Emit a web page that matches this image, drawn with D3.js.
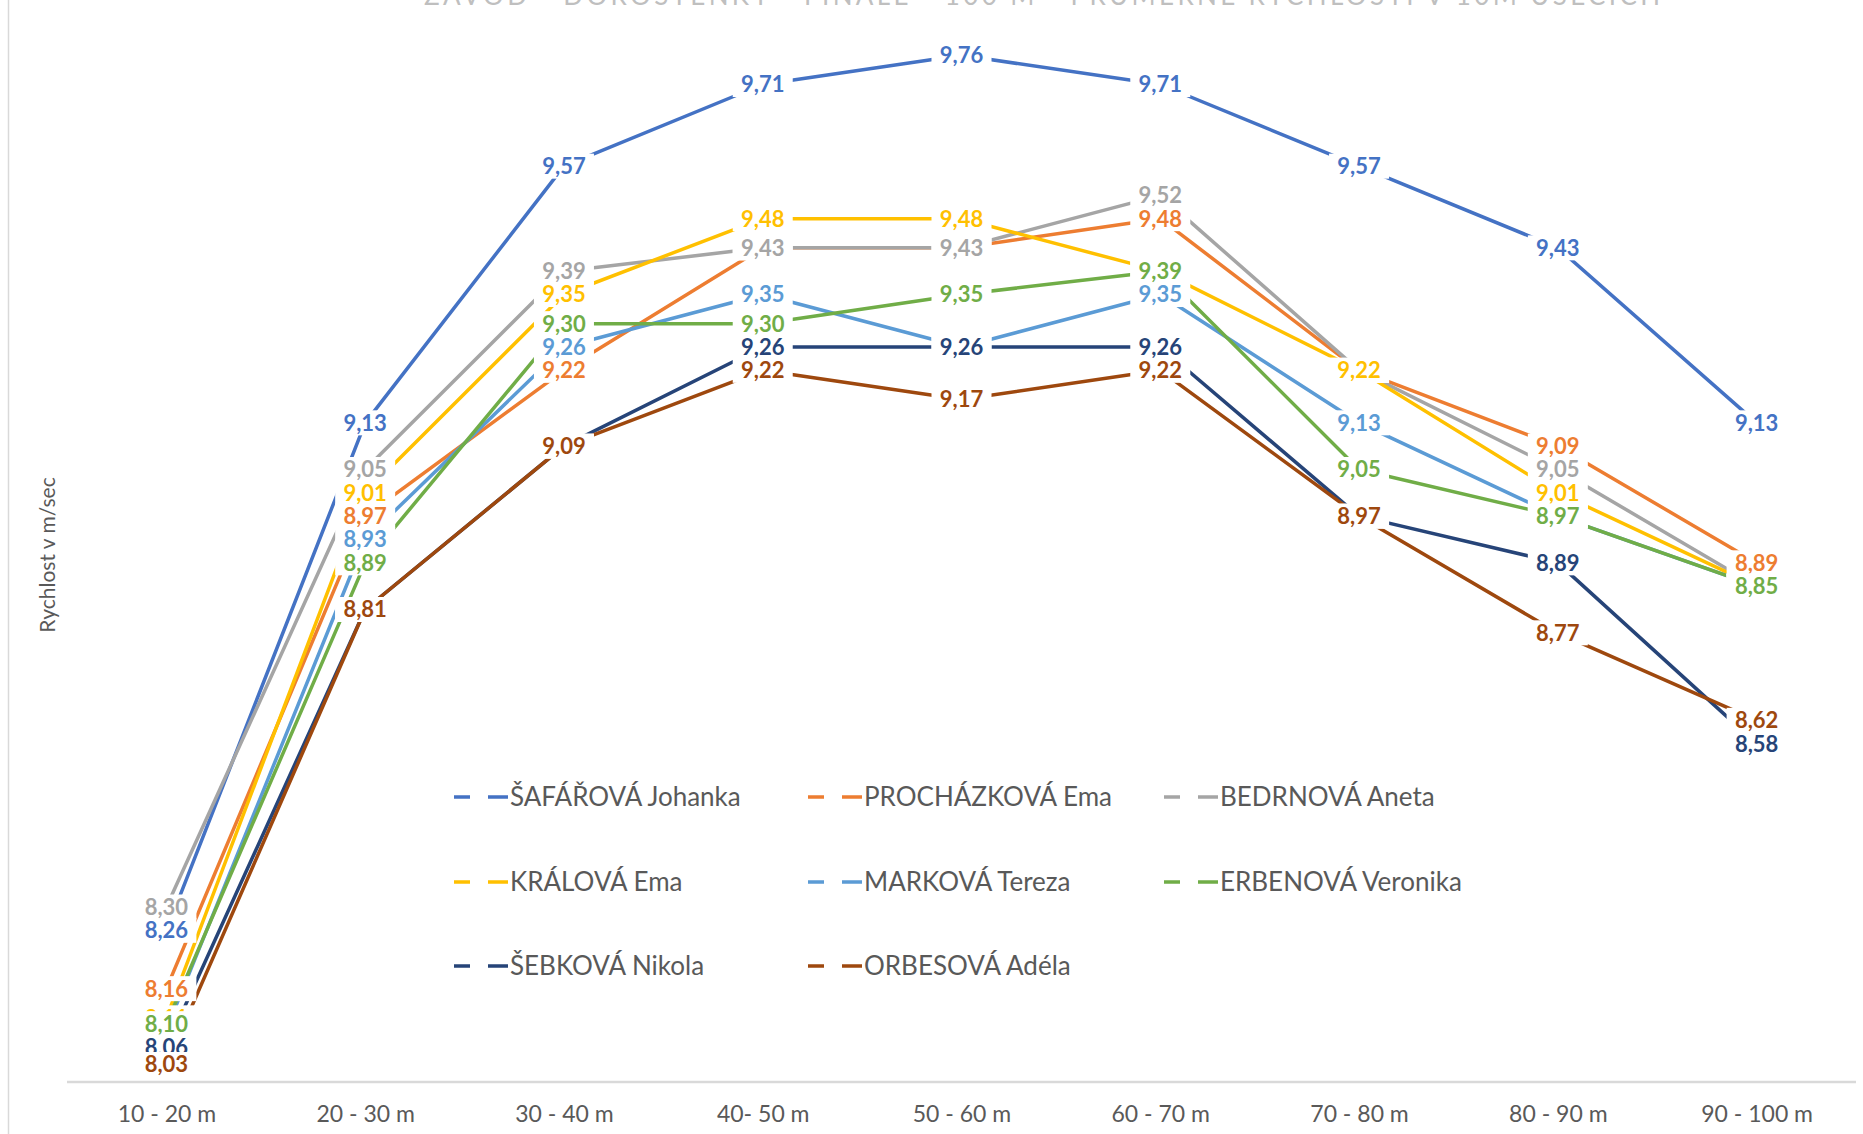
<!DOCTYPE html>
<html>
<head>
<meta charset="utf-8">
<script src="https://cdn.jsdelivr.net/npm/d3@7"></script>
<style>
  body { margin: 0; background: #fff; }
  svg { display: block; font-family: Lato, "Open Sans", sans-serif; }
</style>
</head>
<body>
<div id="chart"></div>
<script>
var categories = ['10 - 20 m', '20 - 30 m', '30 - 40 m', '40- 50 m', '50 - 60 m', '60 - 70 m', '70 - 80 m', '80 - 90 m', '90 - 100 m'];
var names = ['ŠAFÁŘOVÁ Johanka', 'PROCHÁZKOVÁ Ema', 'BEDRNOVÁ Aneta', 'KRÁLOVÁ Ema', 'MARKOVÁ Tereza', 'ERBENOVÁ Veronika', 'ŠEBKOVÁ Nikola', 'ORBESOVÁ Adéla'];
var safarova = [8.26, 9.13, 9.57, 9.71, 9.76, 9.71, 9.57, 9.43, 9.13];
var prochazkova = [8.16, 8.97, 9.22, 9.43, 9.43, 9.48, 9.22, 9.09, 8.89];
var bedrnova = [8.30, 9.05, 9.39, 9.43, 9.43, 9.52, 9.22, 9.05, 8.85];
var kralova = [8.11, 9.01, 9.35, 9.48, 9.48, 9.39, 9.22, 9.01, 8.85];
var markova = [8.09, 8.93, 9.26, 9.35, 9.26, 9.35, 9.13, 8.97, 8.85];
var erbenova = [8.10, 8.89, 9.30, 9.30, 9.35, 9.39, 9.05, 8.97, 8.85];
var sebkova = [8.06, 8.81, 9.09, 9.26, 9.26, 9.26, 8.97, 8.89, 8.58];
var orbesova = [8.03, 8.81, 9.09, 9.22, 9.17, 9.22, 8.97, 8.77, 8.62];
var colors = ['#4472C4', '#ED7D31', '#A5A5A5', '#FFC000', '#5B9BD5', '#70AD47', '#264478', '#9E480E'];
var yDomain = [8.0, 9.8];

var series = [safarova, prochazkova, bedrnova, kralova, markova, erbenova, sebkova, orbesova].map(function(v, i) {
    return {name: names[i], values: v, color: colors[i]};
});

var W = 1863, H = 1134;
var margin = {top: 32, right: 7, bottom: 52, left: 67};

var svg = d3.select('#chart').append('svg')
    .attr('width', W)
    .attr('height', H)
    .style('background-color', '#fff');

// outer border on left
svg.append('line')
    .attr('x1', 8.5).attr('x2', 8.5)
    .attr('y1', 0).attr('y2', H)
    .style('stroke', '#d9d9d9')
    .style('stroke-width', 1.5);

// title (cut off at the top)
svg.append('text')
    .attr('x', 1042)
    .attr('y', 5)
    .attr('text-anchor', 'middle')
    .attr('textLength', 1236)
    .attr('lengthAdjust', 'spacing')
    .style('font-size', '26px')
    .style('fill', '#bfbfbf')
    .text('ZÁVOD - DOROSTENKY - FINÁLE - 100 M - PRŮMĚRNÉ RYCHLOSTI V 10M ÚSECÍCH');

var x = d3.scalePoint()
    .domain(categories)
    .range([margin.left, W - margin.right])
    .padding(0.5);

var y = d3.scaleLinear()
    .domain(yDomain)
    .range([H - margin.bottom, margin.top]);

// x axis
var xAxis = svg.append('g')
    .attr('transform', 'translate(0,' + (H - margin.bottom) + ')')
    .call(d3.axisBottom(x).tickSize(0).tickPadding(24));
xAxis.select('.domain')
    .attr('d', 'M' + margin.left + ',0H' + (W - margin.right))
    .style('stroke', '#d9d9d9')
    .style('stroke-width', 2.5);
xAxis.selectAll('text')
    .style('font-size', '23px')
    .style('fill', '#595959')
    .style('font-family', 'Lato, sans-serif');

// y title
svg.append('text')
    .attr('transform', 'translate(48,555) rotate(-90)')
    .attr('text-anchor', 'middle')
    .attr('dy', '0.35em')
    .style('font-size', '21px')
    .style('fill', '#595959')
    .text('Rychlost v m/sec');

var line = d3.line()
    .x(function(d, i) { return x(categories[i]); })
    .y(function(d) { return y(d); });

svg.append('g').attr('class', 'lines')
    .selectAll('path')
    .data(series)
    .enter().append('path')
    .attr('d', function(d) { return line(d.values); })
    .style('fill', 'none')
    .style('stroke', function(d) { return d.color; })
    .style('stroke-width', 3.5)
    .style('stroke-linejoin', 'round');

// data labels, later series on top
var fmt = function(v) { return v.toFixed(2).replace('.', ','); };
var labels = svg.append('g').attr('class', 'labels');
series.forEach(function(s) {
    var g = labels.append('g');
    s.values.forEach(function(v, i) {
        var lg = g.append('g')
            .attr('transform', 'translate(' + x(categories[i]) + ',' + y(v) + ')');
        lg.append('rect')
            .attr('x', -30).attr('y', -12.5)
            .attr('width', 60).attr('height', 25)
            .style('fill', '#fff');
        lg.append('text')
            .attr('text-anchor', 'middle')
            .attr('dy', '0.36em')
            .style('font-size', '22px')
            .style('font-weight', 'bold')
            .style('fill', s.color)
            .text(fmt(v));
    });
});

// legend
var legendCols = [454, 808, 1164];
var legendRows = [797, 882, 966];
var legend = svg.append('g').attr('class', 'legend')
    .selectAll('g')
    .data(series)
    .enter().append('g')
    .attr('transform', function(d, i) {
        return 'translate(' + legendCols[i % 3] + ',' + legendRows[Math.floor(i / 3)] + ')';
    });
legend.append('line')
    .attr('x1', 0).attr('x2', 54)
    .attr('y1', 0).attr('y2', 0)
    .style('stroke', function(d) { return d.color; })
    .style('stroke-width', 3.5)
    .style('stroke-dasharray', '16,18,20');
legend.append('text')
    .attr('x', 56)
    .attr('dy', '0.35em')
    .style('font-size', '26px')
    .style('fill', '#595959')
    .text(function(d) { return d.name; });
</script>
</body>
</html>
